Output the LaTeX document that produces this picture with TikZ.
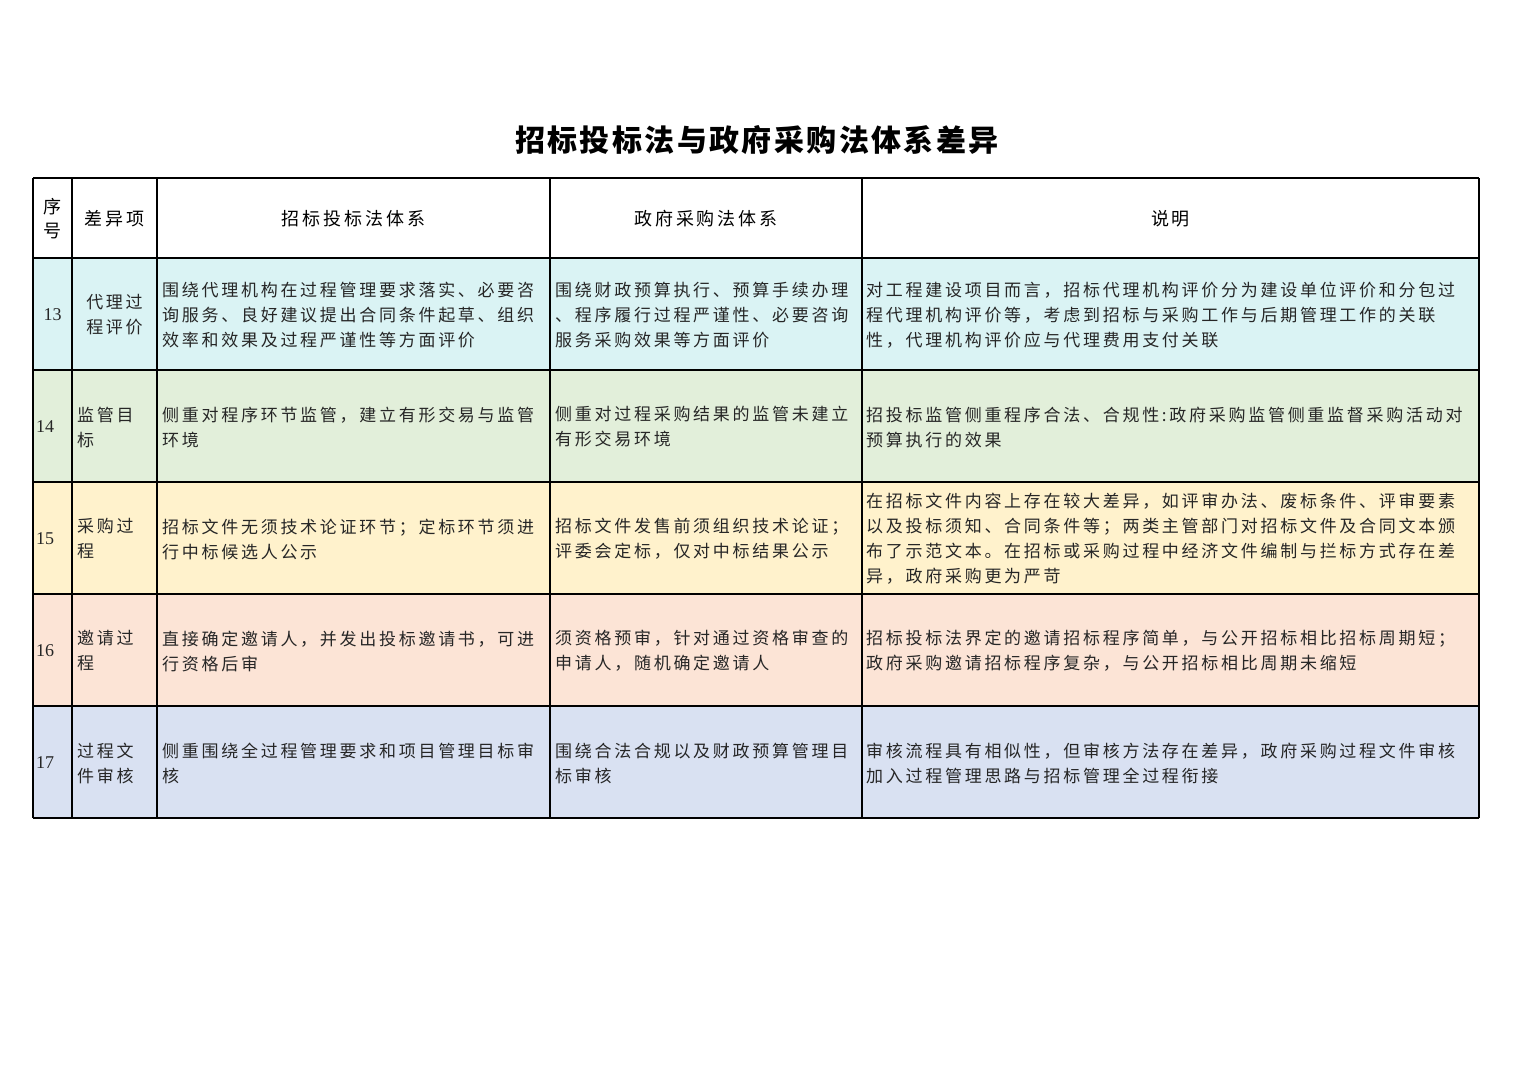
\documentclass[tikz,border=0pt]{standalone}
\usepackage{fontspec}
\newfontfamily\cjk[LetterSpace=16]{Noto Sans CJK SC}
\newfontfamily\cjkt[LetterSpace=8]{Noto Sans CJK SC}
\newfontfamily\numf{Liberation Serif}
\definecolor{rA}{HTML}{DAF3F4}
\definecolor{rB}{HTML}{E2EFDA}
\definecolor{rC}{HTML}{FFF2CC}
\definecolor{rD}{HTML}{FCE4D6}
\definecolor{rE}{HTML}{D9E1F2}
\tikzset{
 cell/.style={anchor=west,align=left,inner sep=0pt,font=\cjk\fontsize{17}{25}\selectfont,text=black!85},
 ccell/.style={anchor=center,align=center,inner sep=0pt,font=\cjk\fontsize{17}{25}\selectfont,text=black!85},
 num/.style={inner sep=0pt,font=\numf\fontsize{18}{22}\selectfont,text=black!85},
 head/.style={anchor=center,align=center,inner sep=0pt,font=\cjk\fontsize{18}{24}\selectfont},
 grid/.style={line width=1.3pt,black}
}
\begin{document}
\begin{tikzpicture}[x=1pt,y=-1pt]
\useasboundingbox (0,0) rectangle (1527,1080);
\node[font=\cjkt\bfseries\fontsize{30}{34}\selectfont] (title) at (757,140) {招标投标法与政府采购法体系差异};
% row fills
\fill[rA] (33,258) rectangle (1479,370);
\fill[rB] (33,370) rectangle (1479,482);
\fill[rC] (33,482) rectangle (1479,594);
\fill[rD] (33,594) rectangle (1479,706);
\fill[rE] (33,706) rectangle (1479,818);
% grid
\foreach \y in {178,258,370,482,594,706,818} \draw[grid] (33,\y) -- (1479,\y);
\foreach \x in {33,72,157,550,862,1479} \draw[grid] (\x,178) -- (\x,818);
% header
\node[head] (h0) at (52.5,219) {序\\号};
\node[head] (h1) at (114.5,219) {差异项};
\node[head] (h2) at (353.5,219) {招标投标法体系};
\node[head] (h3) at (706,219) {政府采购法体系};
\node[head] (h4) at (1170.5,219) {说明};
% row 13
\node[num] (n13) at (52.5,315) {13};
\node[ccell] (d13) at (114.5,315) {代理过\\程评价};
\node[cell] (a13) at (162,315) {围绕代理机构在过程管理要求落实、必要咨\\询服务、良好建议提出合同条件起草、组织\\效率和效果及过程严谨性等方面评价};
\node[cell] (b13) at (555,315) {围绕财政预算执行、预算手续办理\\、程序履行过程严谨性、必要咨询\\服务采购效果等方面评价};
\node[cell] (c13) at (866,315) {对工程建设项目而言，招标代理机构评价分为建设单位评价和分包过\\程代理机构评价等，考虑到招标与采购工作与后期管理工作的关联\\性，代理机构评价应与代理费用支付关联};
% row 14
\node[num,anchor=west] (n14) at (36,427) {14};
\node[cell] (d14) at (77,427) {监管目\\标};
\node[cell] (a14) at (162,427) {侧重对程序环节监管，建立有形交易与监管\\环境};
\node[cell] (b14) at (555,427) {侧重对过程采购结果的监管未建立\\有形交易环境};
\node[cell] (c14) at (866,427) {招投标监管侧重程序合法、合规性:政府采购监管侧重监督采购活动对\\预算执行的效果};
% row 15
\node[num,anchor=west] (n15) at (36,539) {15};
\node[cell] (d15) at (77,539) {采购过\\程};
\node[cell] (a15) at (162,539) {招标文件无须技术论证环节；定标环节须进\\行中标候选人公示};
\node[cell] (b15) at (555,539) {招标文件发售前须组织技术论证；\\评委会定标，仅对中标结果公示};
\node[cell] (c15) at (866,539) {在招标文件内容上存在较大差异，如评审办法、废标条件、评审要素\\以及投标须知、合同条件等；两类主管部门对招标文件及合同文本颁\\布了示范文本。在招标或采购过程中经济文件编制与拦标方式存在差\\异，政府采购更为严苛};
% row 16
\node[num,anchor=west] (n16) at (36,651) {16};
\node[cell] (d16) at (77,651) {邀请过\\程};
\node[cell] (a16) at (162,651) {直接确定邀请人，并发出投标邀请书，可进\\行资格后审};
\node[cell] (b16) at (555,651) {须资格预审，针对通过资格审查的\\申请人，随机确定邀请人};
\node[cell] (c16) at (866,651) {招标投标法界定的邀请招标程序简单，与公开招标相比招标周期短；\\政府采购邀请招标程序复杂，与公开招标相比周期未缩短};
% row 17
\node[num,anchor=west] (n17) at (36,763) {17};
\node[cell] (d17) at (77,763) {过程文\\件审核};
\node[cell] (a17) at (162,763) {侧重围绕全过程管理要求和项目管理目标审\\核};
\node[cell] (b17) at (555,763) {围绕合法合规以及财政预算管理目\\标审核};
\node[cell] (c17) at (866,763) {审核流程具有相似性，但审核方法存在差异，政府采购过程文件审核\\加入过程管理思路与招标管理全过程衔接};
\end{tikzpicture}
\end{document}
